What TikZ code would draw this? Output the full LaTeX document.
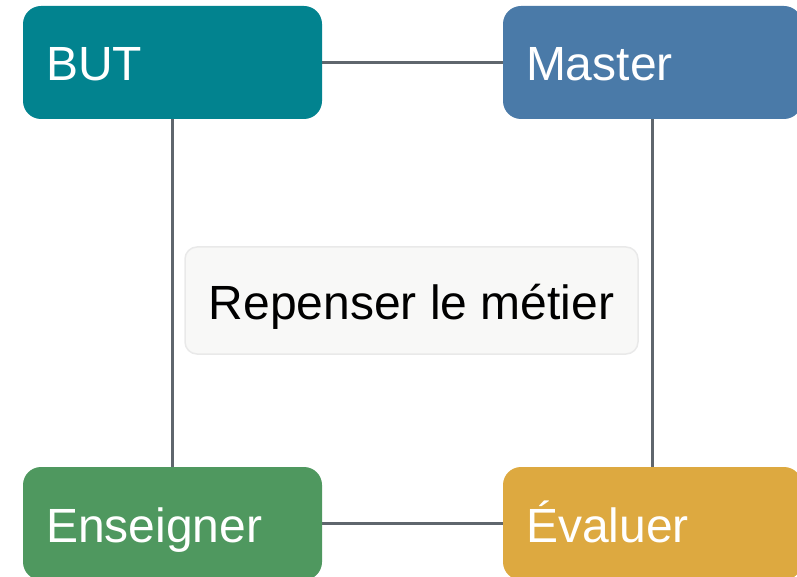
\documentclass[tikz,border=0pt]{standalone}
\usepackage{fontspec}
\setmainfont{Liberation Sans}
\usetikzlibrary{backgrounds}
\definecolor{cBUT}{HTML}{02838F}
\definecolor{cMaster}{HTML}{4A7AA8}
\definecolor{cEns}{HTML}{4F985F}
\definecolor{cEval}{HTML}{DDA940}
\definecolor{cLine}{HTML}{5F666D}
\definecolor{cCenterFill}{HTML}{F8F8F7}
\definecolor{cCenterDraw}{HTML}{E9E9E9}
\tikzset{
  bigbox/.style={rounded corners=18pt, minimum height=113pt, inner xsep=23pt, inner ysep=0pt,
    text width=253pt, align=left, text=white, text height=37pt, text depth=0pt,
    font=\fontsize{48}{56}\selectfont},
  centerbox/.style={rounded corners=12pt, minimum width=453pt, minimum height=107pt,
    inner ysep=0pt, text height=37pt, text depth=0pt,
    fill=cCenterFill, draw=cCenterDraw, line width=1.5pt, text=black, font=\fontsize{48}{56}\selectfont},
  link/.style={draw=cLine, line width=3pt}
}
\begin{document}
\begin{tikzpicture}[x=1pt,y=-1pt]
\useasboundingbox (0,0) rectangle (797,577);
\clip (0,0) rectangle (797,577);
\node[bigbox, fill=cBUT] (but) at (172.5,62.5) {BUT};
\node[bigbox, fill=cMaster] (master) at (652.5,62.5) {Master};
\node[bigbox, fill=cEns] (ens) at (172.5,523.5) {Enseigner};
\node[bigbox, fill=cEval] (eval) at (652.5,523.5) {Évaluer};
\node[centerbox] (center) at (411.5,300.5) {Repenser le métier};
\begin{scope}[on background layer]
\draw[link] (but.center) -- (master.center);
\draw[link] (but.center) -- (ens.center);
\draw[link] (master.center) -- (eval.center);
\draw[link] (ens.center) -- (eval.center);
\end{scope}
\end{tikzpicture}
\end{document}
